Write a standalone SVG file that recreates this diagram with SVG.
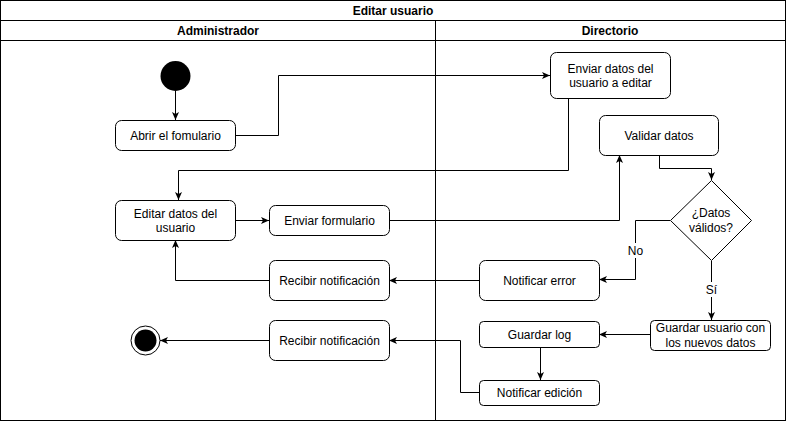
<svg xmlns="http://www.w3.org/2000/svg" width="786" height="421" viewBox="0 0 786 421">
<style>
.box{fill:#fff;stroke:#000;stroke-width:1}
.lane{fill:none;stroke:#000;stroke-width:1}
.t{font-family:"Liberation Sans",Arial,sans-serif;font-size:12px;fill:#000;text-anchor:middle}
.b{font-weight:bold}
.c{fill:none;stroke:#000;stroke-width:1}
.lbl{fill:#fff;stroke:none}
</style>
<defs>
<marker id="arr" markerUnits="userSpaceOnUse" markerWidth="10" markerHeight="10" refX="8" refY="4" orient="auto">
<path d="M0,0.5 L8,4 L0,7.5 L2,4 z" fill="#000"/>
</marker>
</defs>
<rect x="0" y="0" width="786" height="421" fill="#fff"/>
<g id="pool">
<rect class="lane" x="0.5" y="0.5" width="785" height="420"/>
<line class="lane" x1="0.5" y1="20.5" x2="785.5" y2="20.5"/>
<line class="lane" x1="0.5" y1="40.5" x2="785.5" y2="40.5"/>
<line class="lane" x1="435.5" y1="20.5" x2="435.5" y2="420.5"/>
<text class="t b" x="393" y="14.5">Editar usuario</text>
<text class="t b" x="218" y="34.5">Administrador</text>
<text class="t b" x="610" y="34.5">Directorio</text>
</g>
<g id="connectors">
<path class="c" d="M175.5,91 V120" marker-end="url(#arr)"/>
<path class="c" d="M235,135.5 H278.5 V75.5 H550" marker-end="url(#arr)"/>
<path class="c" d="M568.5,98 V170.5 H178.5 V200" marker-end="url(#arr)"/>
<path class="c" d="M235,220.5 H269" marker-end="url(#arr)"/>
<path class="c" d="M389,220.5 H619.5 V155" marker-end="url(#arr)"/>
<path class="c" d="M659.5,155 V168.5 H711.5 V180" marker-end="url(#arr)"/>
<path class="c" d="M670,220.5 H635.5 V279.5 H599" marker-end="url(#arr)"/>
<path class="c" d="M711.5,261 V320" marker-end="url(#arr)"/>
<path class="c" d="M479,280.5 H389" marker-end="url(#arr)"/>
<path class="c" d="M269,280.5 H175.5 V240" marker-end="url(#arr)"/>
<path class="c" d="M650,334.5 H599" marker-end="url(#arr)"/>
<path class="c" d="M540.5,348 V380" marker-end="url(#arr)"/>
<path class="c" d="M479,392.5 H460.5 V340.5 H389" marker-end="url(#arr)"/>
<path class="c" d="M269,340.5 H160" marker-end="url(#arr)"/>
<rect class="lbl" x="627" y="243" width="17" height="15"/>
<text class="t" x="635.5" y="255">No</text>
<rect class="lbl" x="704" y="282" width="15" height="15"/>
<text class="t" x="711.5" y="294">Sí</text>
</g>
<g id="start">
<circle cx="175.5" cy="76" r="15" fill="#000"/>
</g>
<g id="abrir">
<rect class="box" x="115.5" y="120.5" width="120" height="30" rx="6"/>
<text class="t" x="175.5" y="139.5">Abrir el fomulario</text>
</g>
<g id="enviarDatos">
<rect class="box" x="550.5" y="52.5" width="120" height="46" rx="6"/>
<text class="t" x="610.5" y="72.5">Enviar datos del</text>
<text class="t" x="610.5" y="87">usuario a editar</text>
</g>
<g id="validar">
<rect class="box" x="599.5" y="115.5" width="119" height="40" rx="6"/>
<text class="t" x="659" y="139.5">Validar datos</text>
</g>
<g id="editar">
<rect class="box" x="115.5" y="200.5" width="120" height="40" rx="6"/>
<text class="t" x="175.5" y="217.5">Editar datos del</text>
<text class="t" x="175.5" y="232">usuario</text>
</g>
<g id="enviarForm">
<rect class="box" x="269.5" y="205.5" width="120" height="30" rx="6"/>
<text class="t" x="329.5" y="224.5">Enviar formulario</text>
</g>
<g id="decision">
<path class="box" d="M711.5,180.5 L751.5,220.5 L711.5,260.5 L670.5,220.5 Z"/>
<text class="t" x="711" y="217">¿Datos</text>
<text class="t" x="711" y="232">válidos?</text>
</g>
<g id="notifError">
<rect class="box" x="479.5" y="260.5" width="120" height="40" rx="6"/>
<text class="t" x="539.5" y="284.5">Notificar error</text>
</g>
<g id="recibir1">
<rect class="box" x="269.5" y="260.5" width="120" height="40" rx="6"/>
<text class="t" x="329.5" y="284.5">Recibir notificación</text>
</g>
<g id="guardarUsuario">
<rect class="box" x="650.5" y="320.5" width="120" height="30" rx="4"/>
<text class="t" x="710.5" y="332">Guardar usuario con</text>
<text class="t" x="710.5" y="346.5">los nuevos datos</text>
</g>
<g id="guardarLog">
<rect class="box" x="479.5" y="321.5" width="120" height="26" rx="4"/>
<text class="t" x="539.5" y="338.5">Guardar log</text>
</g>
<g id="notifEdicion">
<rect class="box" x="479.5" y="380.5" width="120" height="25" rx="4"/>
<text class="t" x="539.5" y="397">Notificar edición</text>
</g>
<g id="recibir2">
<rect class="box" x="269.5" y="320.5" width="120" height="40" rx="6"/>
<text class="t" x="329.5" y="344.5">Recibir notificación</text>
</g>
<g id="end">
<circle cx="145.5" cy="340.5" r="14.5" fill="#fff" stroke="#000" stroke-width="1"/>
<circle cx="145.5" cy="340.5" r="11" fill="#000"/>
</g>
</svg>
